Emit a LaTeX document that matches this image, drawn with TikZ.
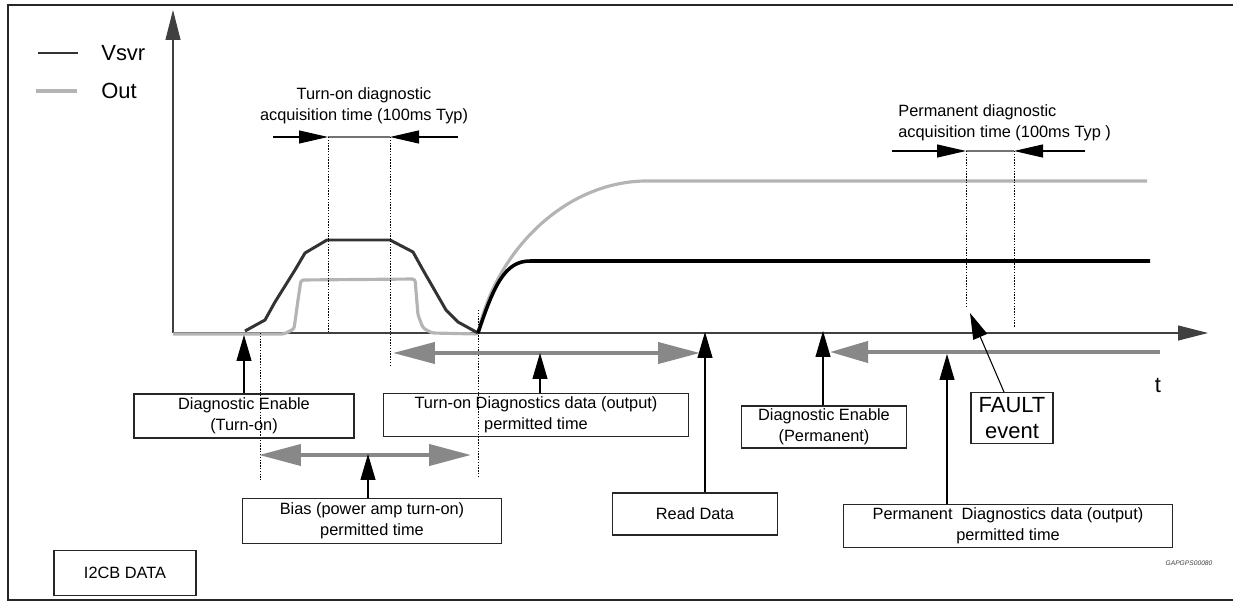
\documentclass[tikz,border=0pt]{standalone}
\usepackage{fontspec}
\setmainfont{Liberation Sans}
\usetikzlibrary{arrows.meta,positioning}
\definecolor{vsvrgray}{HTML}{333333}
\definecolor{outgray}{HTML}{B4B4B4}
\definecolor{spangray}{HTML}{888888}
\tikzset{
  basic/.style   = {draw=black!85, line width=0.6pt, align=center, inner sep=0pt,
                    font=\fontsize{9.3}{11.8}\selectfont},
  note/.style    = {align=center, inner sep=0pt, font=\fontsize{9.3}{11.8}\selectfont},
  big/.style     = {inner sep=0pt, font=\fontsize{12.5}{14.5}\selectfont},
  axis/.style    = {draw=black!75, line width=0.6pt, -{Triangle[length=0.6cm,width=0.3cm]}},
  pointer/.style = {draw=black, line width=0.6pt, -{Triangle[length=0.52cm,width=0.3cm]}},
  dim/.style     = {draw=black, line width=0.6pt, -{Triangle[length=0.58cm,width=0.26cm]}},
  span/.style    = {draw=spangray, line width=2.3pt,
                    {Triangle[length=0.84cm,width=0.42cm]}-{Triangle[length=0.84cm,width=0.42cm]}},
  spanleft/.style = {draw=spangray, line width=2.3pt, {Triangle[length=0.76cm,width=0.42cm]}-},
  guide/.style   = {draw=black, line width=0.4pt, dash pattern=on 0.8pt off 0.8pt},
  vsvrline/.style = {draw=vsvrgray, line width=1.7pt, line join=round},
  outline/.style  = {draw=outgray, line width=1.8pt, line join=round}
}

\begin{document}
\begin{tikzpicture}[x=0.02cm, y=-0.02cm]
\useasboundingbox (0,0) rectangle (1233,604);
% frame
\draw[line width=1pt, black!85] (1233,5) -- (8,5) -- (8,600) -- (1233,600);

% legend
\draw[vsvrline] (38,53) -- (78,53);
\node[big, anchor=west] (lv) at (101,53) {Vsvr};
\draw[outline] (36,91) -- (77,91);
\node[big, anchor=west] (lo) at (101,91) {Out};

% axes
\coordinate (o) at (173,333);
\coordinate (ytop) at (173,10);
\coordinate (xend) at (1208,333);
\draw[axis] (o) -- (ytop);
\draw[axis] (o) -- (xend);
\node[big] (t) at (1158,385) {t};

% signals
\draw[outline, rounded corners=1.5pt] (173,334) -- (284,334) -- (294,329) -- (298,300)
  -- (301,280) -- (415,279) -- (418,315) -- (423,328) -- (432,333) -- (478,334)
  .. controls (495,255) and (560,185) .. (643,181) -- (1147,181);
\draw[vsvrline] (245,331) -- (265,320) -- (275,302) -- (295,270) -- (305,253) -- (327,240)
  -- (390,240) -- (413,252) -- (423,270) -- (446,310) -- (458,322) -- (478,333);
\draw[vsvrline, draw=black, line width=2pt] (478,333) .. controls (494,285) and (505,261) .. (530,261)
  -- (1150,261);

% turn-on acquisition window
\node[note] (tdlab) at (364,106) {Turn-on diagnostic\\acquisition time (100ms Typ)};
\coordinate (t1) at (273,137);
\coordinate (t2) at (328,137);
\coordinate (t3) at (390,137);
\coordinate (t4) at (458,137);
\draw[dim] (t1) -- (t2);
\draw[dim] (t4) -- (t3);
\draw[black!55, line width=0.6pt] (t2) -- (t3);
\draw[guide] (t2) -- (t2 |- o);
\draw[guide] (t3) -- ++(0,228);

% permanent acquisition window
\node[note, align=left, anchor=west] (pdlab) at (898,123) {Permanent diagnostic\\acquisition time (100ms Typ )};
\coordinate (p1) at (892,151);
\coordinate (p2) at (966,151);
\coordinate (p3) at (1014,151);
\coordinate (p4) at (1085,151);
\draw[dim] (p1) -- (p2);
\draw[dim] (p4) -- (p3);
\draw[black!55, line width=0.6pt] (p2) -- (p3);
\draw[guide] (p2) -- ++(0,157);
\draw[guide] (p3) -- ++(0,177);

% other guides
\draw[guide] (260,333) -- (260,480);
\draw[guide] (478,310) -- (478,478);

% boxes
\node[basic, minimum width=4.4cm, minimum height=0.88cm] (den) at (244,416) {Diagnostic Enable\\(Turn-on)};
\node[basic, minimum width=6.1cm, minimum height=0.86cm] (tod) at (536,415) {Turn-on Diagnostics data (output)\\permitted time};
\node[basic, minimum width=5.18cm, minimum height=0.9cm] (bias) at (372,521) {Bias (power amp turn-on)\\permitted time};
\node[basic, minimum width=2.84cm, minimum height=0.9cm] (i2cb) at (125,573) {I2CB DATA};
\node[basic, minimum width=3.3cm, minimum height=0.84cm] (read) at (695,514) {Read Data};
\node[basic, minimum width=3.3cm, minimum height=0.84cm] (dep) at (824,427) {Diagnostic Enable\\(Permanent)};
\node[basic, minimum width=6.58cm, minimum height=0.86cm] (pdd) at (1008,526) {Permanent\ \ Diagnostics data (output)\\permitted time};
\node[basic, big, minimum width=1.64cm, minimum height=1.02cm] (fault) at (1012,418) {FAULT\\event};

% permitted time spans
\coordinate (tdL) at (393,353);
\coordinate (tdR) at (700,353);
\coordinate (bL) at (259,455);
\coordinate (bR) at (471,455);
\coordinate (pL) at (830,352);
\coordinate (pR) at (1160,352);
\draw[span] (tdL) -- (tdR);
\draw[span] (bL) -- (bR);
\draw[spanleft] (pL) -- (pR);

% pointers
\coordinate (denT) at (244,335);
\coordinate (todT) at (540,353);
\coordinate (biasT) at (368,454);
\coordinate (readT) at (705,332);
\coordinate (depT) at (823,331);
\coordinate (pddT) at (947,354);
\coordinate (faultT) at (970,313);
\draw[pointer] (den.north -| denT) -- (denT);
\draw[pointer] (tod.north -| todT) -- (todT);
\draw[pointer] (bias.north -| biasT) -- (biasT);
\draw[pointer] (read.north -| readT) -- (readT);
\draw[pointer] (dep.north -| depT) -- (depT);
\draw[pointer] (pdd.north -| pddT) -- (pddT);
\draw[pointer] ([xshift=-0.16cm]fault.north) -- (faultT);

\node[font=\fontsize{3.8}{4}\selectfont\itshape, text=black!75] (code) at (1189,563) {GAPGPS00080};
\end{tikzpicture}
\end{document}
